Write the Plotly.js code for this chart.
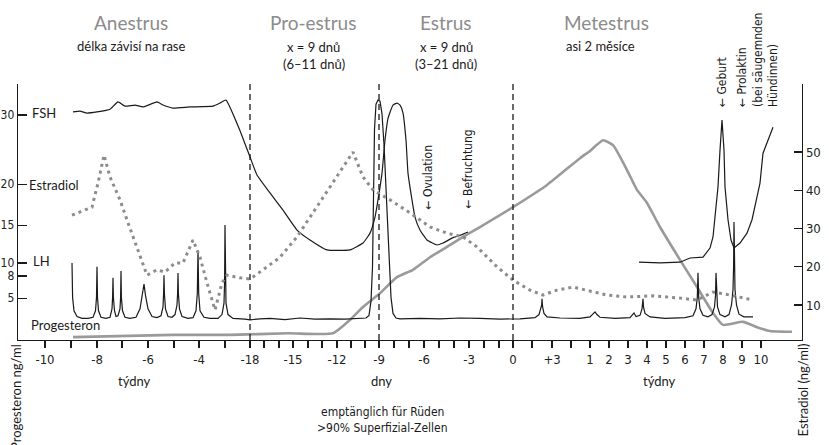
<!DOCTYPE html>
<html><head><meta charset="utf-8">
<script src="https://cdn.plot.ly/plotly-3.0.1.min.js"></script>
<style>body{margin:0;background:#fff}#c{width:829px;height:445px}</style>
</head><body><div id="c"></div>
<script>
// ---- timeline ticks (position units along the broken time axis) ----
const tickPos  = [45,71,97,122,148,174,199,225, 250,264,279,293,308,322,337,351,365,379,394,409,424,439,454,469,484,499,513, 532,552,571, 590,609,628,647,666,685,704,723,742,761];
const tickText = ['-10','','-8','','-6','','-4','', '-18','','','-15','','','-12','','','-9','','','-6','','','-3','','','0', '','+3','', '1','2','3','4','5','6','7','8','9','10'];
const phaseBounds = [250, 379, 513];

// left axis (hormone scale) tick labels and their places on the common scale
const leftTickVals = [59.7, 41.6, 30.9, 21.0, 17.6, 11.8];
const leftTickText = ['30','20','15','10','8','5'];
const rightTickVals = [10,20,30,40,50];

// ---- FSH ----
const fshX = [73,80,87,97,110,118,125,135,143,157,163,173,190,213,220,226,240,250,257,270,283,297,310,327,350,363,370,375,378,382,385,388,393,397,400,403,406,408,412,415,420,427,437,443,452,460,468];
const fshY = [60.5,60.7,60.2,60.5,61.2,63.1,62.0,62.3,61.8,63.1,62.3,61.5,61.8,62.0,62.8,63.6,55.6,48.7,44.0,39.3,34.8,29.6,27.0,24.4,24.4,26.2,28.8,33.0,37.5,44.5,53.1,58.8,62.3,62.8,62.3,60.2,53.1,44.5,37.5,33.0,29.6,27.0,25.7,26.2,27.5,28.2,29.1];

// ---- LH ----
const lhX = [72,72.6,74,77,82,88,93,95.5,96.5,97,97.5,98.5,101,106,110,112,112.6,113,113.4,114.5,116,118,120,120.6,121,121.4,122.5,125,130,136,140,142.5,144,145.5,148,152,157,161,163,163.6,164,164.4,165.5,168,172,175,177,177.6,178,178.4,179.5,182,188,193,196,197.3,198,198.7,200,204,210,218,222,224,224.6,225,225.4,226,228,233,245,250,260,270,285,300,315,330,345,360,366,369,371,372.5,373.5,374.5,376,378,380,382,384,386,388,389.5,391,393,396,400,420,440,460,480,500,520,535,539,541,541.7,542,542.6,544,547,560,580,590,593,595,597,600,615,630,633,634,636,640,642,642.6,643,643.5,645,650,665,685,693,696,697.3,698,698.7,700,703,708,712,714.5,715.5,716,716.5,717.5,720,725,729,731.5,733,733.6,734,734.4,735,736.5,739,744,753];
const lhY = [21.0,12.0,8.5,7.0,6.5,6.5,6.8,8.5,12,20.0,12,8.5,6.8,6.5,6.8,9,12,17.1,12,8.5,7.0,7.2,9,12,18.9,12,8.5,6.8,6.5,6.8,9,12.5,15.5,12.5,9,7.0,6.7,7.2,9.5,13,17.8,13,9,7.0,6.8,7.5,10,13,18.4,13,9,7.0,6.5,6.7,8.5,13,24.4,13,8.5,6.8,6.5,6.5,7.5,10.5,16,30.9,16,10.5,7.5,6.5,6.3,6.1,6.4,6.5,6.2,6.6,6.3,6.4,6.3,6.4,6.6,7.3,11,20,40,56,62.5,63.6,63.3,60,52,41,28,20,12,7.8,6.6,6.4,6.5,6.4,6.6,6.5,6.3,6.4,6.7,7.5,9,10,11.6,9.5,7.8,6.9,6.6,6.5,6.9,7.7,8.2,7.5,6.8,6.5,6.7,7.6,7.9,7.0,7.3,9,10,11.6,9.5,7.8,6.9,6.5,6.7,7.2,9,12,18.4,12,9,7.3,6.9,7.5,9.5,12.5,18.4,12.5,9.5,7.5,6.9,7.5,10,14,20,31.7,20,14,10,7.6,6.9,6.9];

// ---- Prolaktin / Geburt curve ----
const prlX = [639,660,680,690,703,710,713,716,718,720,722,724,725,728,731,734,740,747,752,757,760,763,765,768,773];
const prlY = [21.2,21.0,21.2,22.3,22.5,24.9,27.8,34.8,40.9,50.5,58.4,50.5,40.9,32.3,27.0,24.9,26.2,28.8,32.3,38.3,41.9,49.7,51.3,53.1,56.5];

// ---- Estradiol ----
const e2X = [72,92,98,104,110,120,128,137,147,157,165,175,183,193,200,207,215,222,227,240,250,263,280,297,313,330,343,353,363,373,390,410,430,447,463,477,490,497,513,530,543,557,573,587,607,627,653,680,697,713,730,753];
const e2Y = [33.5,35.6,41.9,49.2,43.5,37.5,31.5,25.2,17.8,19.2,18.6,21.0,21.0,27.0,22.5,15.8,8.7,15.8,17.8,17.1,16.8,19.2,22.5,27.8,34.1,40.9,46.1,50.0,43.5,40.1,37.5,34.1,30.4,28.8,27.8,25.2,21.8,20.0,16.5,13.9,12.6,13.9,14.7,13.9,12.6,12.1,12.4,11.8,11.3,13.4,12.6,11.3];

// ---- Progesteron ----
const p4X = [73,173,230,288,333,350,363,380,397,413,430,447,463,480,513,547,580,590,603,613,627,637,647,660,680,697,713,723,743,757,770,792];
const p4Y = [1.6,2.2,2.2,2.6,2.6,6.1,9.5,13.1,17.3,19.2,22.5,25.2,27.8,30.4,35.6,41.4,48.4,50.3,53.1,51.8,45.3,40.1,36.7,30.4,21.8,14.7,7.9,4.8,5.6,4.2,3.2,3.0];

// ---- layout helpers (page pixel -> paper) ----
const L = 18, R = 802, T = 84, B = 340;
const px = x => (x - L) / (R - L);
const py = y => (B - y) / (B - T);

const narrow = 'Liberation Sans Narrow, DejaVu Sans Condensed, Arial Narrow, sans-serif';
const humanist = 'Lato, Open Sans, sans-serif';
const black = '#1a1a1a';

const traces = [
  {x: p4X, y: p4Y, mode: 'lines', line: {color: '#9a9a9a', width: 2.6, shape: 'spline', smoothing: 0.5}, hoverinfo: 'skip'},
  {x: e2X, y: e2Y, yaxis: 'y2', mode: 'lines', line: {color: '#8c8c8c', width: 3, dash: '3px,4px'}, hoverinfo: 'skip'},
  {x: fshX, y: fshY, mode: 'lines', line: {color: black, width: 1.2, shape: 'spline', smoothing: 0.4}, hoverinfo: 'skip'},
  {x: lhX, y: lhY, mode: 'lines', line: {color: black, width: 1.2}, hoverinfo: 'skip'},
  {x: prlX, y: prlY, mode: 'lines', line: {color: black, width: 1.2}, hoverinfo: 'skip'}
];

const shapes = phaseBounds.map(b => ({type: 'line', xref: 'x', yref: 'paper', x0: b, x1: b, y0: 0, y1: 1.01,
  line: {color: black, width: 1.3, dash: '6px,4px'}}));

function ann(text, x, y, o) {
  return Object.assign({text: text, xref: 'paper', yref: 'paper', x: px(x), y: py(y), showarrow: false,
    xanchor: 'center', yanchor: 'middle', font: {family: humanist, size: 13, color: black}}, o || {});
}
const gray = {family: humanist, size: 19, color: '#8c8c8c'};
const nf = s => ({family: narrow, size: s, color: black});

const annotations = [
  ann('Anestrus', 131, 22, {font: gray}),
  ann('délka závisí na rase', 131, 46),
  ann('Pro-estrus', 313, 22, {font: gray}),
  ann('x = 9 dnů', 313, 47),
  ann('(6–11 dnů)', 314, 64),
  ann('Estrus', 446, 22, {font: gray}),
  ann('x = 9 dnů', 446, 47),
  ann('(3–21 dnů)', 446, 64),
  ann('Metestrus', 606, 22, {font: gray}),
  ann('asi 2 měsíce', 600, 46),
  ann('FSH', 30, 113, {xanchor: 'left'}),
  ann('Estradiol', 27, 185, {xanchor: 'left'}),
  ann('LH', 31, 261, {xanchor: 'left'}),
  ann('Progesteron', 29, 325, {xanchor: 'left'}),
  ann('← Ovulation', 427, 211, {textangle: -90, yanchor: 'bottom', font: nf(12)}),
  ann('← Befruchtung', 467, 211, {textangle: -90, yanchor: 'bottom', font: nf(12)}),
  ann('← Geburt', 722, 109, {textangle: -90, yanchor: 'bottom', font: nf(12)}),
  ann('← Prolaktin<br>(bei säugemnden<br>Hündinnen)', 757, 109, {textangle: -90, yanchor: 'bottom', align: 'left', font: nf(12)}),
  ann('týdny', 134, 381),
  ann('dny', 381, 381),
  ann('týdny', 659, 381),
  ann('emptänglich für Rüden', 382, 412, {font: nf(12)}),
  ann('>90% Superfizial-Zellen', 382, 428, {font: nf(12)}),
  ann('Progesteron ng/ml', 16, 342, {textangle: -90, yanchor: 'top'}),
  ann('Estradiol (ng/ml)', 802, 342, {textangle: -90, yanchor: 'top'})
];

const yRange = [0.85, 67.8];
const layout = {
  width: 829, height: 445,
  margin: {l: L, r: 829 - R, t: T, b: 445 - B, pad: 0},
  paper_bgcolor: '#fff', plot_bgcolor: '#fff',
  showlegend: false,
  font: {family: narrow, size: 13, color: '#222'},
  xaxis: {range: [L, R], tickmode: 'array', tickvals: tickPos, ticktext: tickText, ticks: 'outside', ticklen: 7, tickwidth: 1.2,
    tickcolor: black, showline: true, linecolor: black, linewidth: 1.3, showgrid: false, zeroline: false, tickangle: 0,
    tickfont: {family: narrow, size: 13, color: '#222'}, fixedrange: true},
  yaxis: {range: yRange, tickmode: 'array', tickvals: leftTickVals, ticktext: leftTickText, ticks: 'inside', ticklen: 9, tickwidth: 1.2,
    tickcolor: black, showline: true, linecolor: black, linewidth: 1.3, showgrid: false, zeroline: false,
    tickfont: {family: narrow, size: 12, color: '#222'}, fixedrange: true},
  yaxis2: {range: yRange, overlaying: 'y', side: 'right', tickmode: 'array', tickvals: rightTickVals, ticks: 'inside', ticklen: 8, tickwidth: 1.2,
    tickcolor: black, showline: true, linecolor: black, linewidth: 1.3, showgrid: false, zeroline: false,
    tickfont: {family: narrow, size: 13, color: '#222'}, fixedrange: true},
  shapes: shapes,
  annotations: annotations
};
Plotly.newPlot('c', traces, layout, {staticPlot: true, displayModeBar: false});
</script></body></html>
